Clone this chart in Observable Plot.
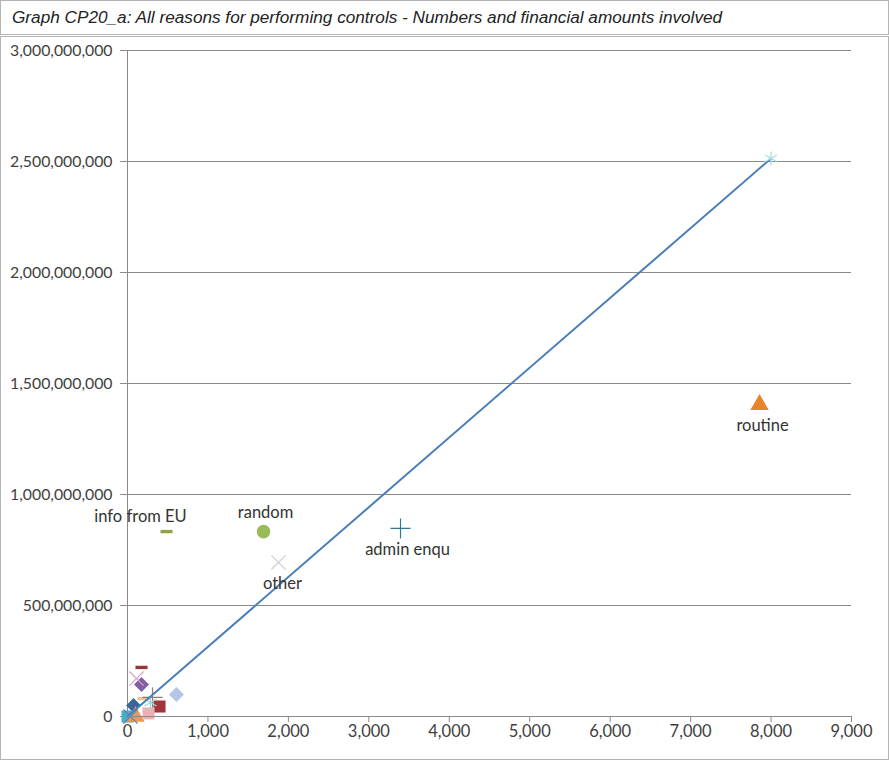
<!DOCTYPE html>
<html>
<head>
<meta charset="utf-8">
<script src="https://cdn.jsdelivr.net/npm/d3@7"></script>
<script src="https://cdn.jsdelivr.net/npm/@observablehq/plot@0.6"></script>
<style>
  html, body { margin: 0; padding: 0; background: #fff; }
  #title {
    box-sizing: border-box; width: 889px; height: 35px;
    border: 1px solid #b4b4b4;
    font-family: "Liberation Sans", Arial, sans-serif; font-style: italic;
    font-size: 17.2px; color: #222; padding-left: 11px; line-height: 32px;
    white-space: nowrap;
  }
  #chart {
    box-sizing: border-box; width: 889px; height: 724px; margin-top: 1px;
    border: 1px solid #b4b4b4; overflow: hidden;
  }
  #chart svg { display: block; }
</style>
</head>
<body>
<div id="title">Graph CP20_a: All reasons for performing controls - Numbers and financial amounts involved</div>
<div id="chart"></div>
<script>
// ---- data ----
const names   = ["routine", "admin enqu", "random", "other", "info from EU",
                 "", "", "", "", "", "", "", "", "", "", "", "", ""];
const counts  = [7857, 3394, 1691, 1877, 485,
                 174, 112, 174, 609, 311, 199, 398, 261, 75, 286, 0, 37, 100];
const amounts = [1405000000, 847000000, 833000000, 694000000, 833000000,
                 221000000, 171000000, 144000000, 99000000, 86000000, 81000000,
                 45000000, 14000000, 50000000, 63000000, 0, 0, 0];
// styles (kept apart from the values)
const colors  = ["#E8832A", "#2F7A8F", "#9BBB59", "#CFCDE0", "#8FA443",
                 "#953735", "#D9A0C6", "#7F60A2", "#B4C6E7", "#8C7B70", "#F5C08F",
                 "#A3353A", "#E6B4B4", "#3A659A", "#9FD6E2", "#4BACC6", "#4F81BD", "#F79646"];
const symbols = ["triangle", "plus", "circle", "times", "dash",
                 "dash", "times", "rhomb", "rhomb", "plus", "dash",
                 "square", "square", "rhomb", "asterisk", "square", "times", "triangle"];

const lineCounts  = [0, 8000];
const lineAmounts = [0, 2514000000];

const xTicks = [0, 1000, 2000, 3000, 4000, 5000, 6000, 7000, 8000, 9000];
const yTicks = [0, 500000000, 1000000000, 1500000000, 2000000000, 2500000000, 3000000000];

// custom markers (Excel "-" marker and square-rotated diamond)
const dashSymbol = {
  draw(ctx, size) {
    const w = Math.sqrt(size) * 1.0, h = w * 0.28;
    ctx.moveTo(-w / 2, -h / 2); ctx.lineTo(w / 2, -h / 2);
    ctx.lineTo(w / 2, h / 2); ctx.lineTo(-w / 2, h / 2); ctx.closePath();
  }
};
const rhombSymbol = {
  draw(ctx, size) {
    const a = Math.sqrt(size) * 0.62;
    ctx.moveTo(0, -a); ctx.lineTo(a, 0); ctx.lineTo(0, a); ctx.lineTo(-a, 0); ctx.closePath();
  }
};
const custom = {dash: dashSymbol, rhomb: rhombSymbol};
const strokeSyms = new Set(["plus", "times", "asterisk"]);

const rows = names.map((n, i) => ({
  name: n, count: counts[i], amount: amounts[i],
  color: colors[i], sym: custom[symbols[i]] || symbols[i],
  stroked: strokeSyms.has(symbols[i])
}));
const line = lineCounts.map((c, i) => ({count: c, amount: lineAmounts[i]}));

const font = "Lato, 'Open Sans', sans-serif";
const fmt = d3.format(",");
const fs = 16.5;

const filled = rows.filter(d => !d.stroked);
const stroked = rows.filter(d => d.stroked);
const lbl = n => rows.filter(d => d.name === n);

const chart = Plot.plot({
  width: 887, height: 722,
  marginLeft: 126, marginRight: 37, marginTop: 13, marginBottom: 43,
  style: {fontFamily: font, fontSize: fs + "px", color: "#404040", background: "#fff"},
  x: {domain: [0, 9000], ticks: xTicks, label: null},
  y: {domain: [0, 3000000000], ticks: yTicks, label: null},
  marks: [
    Plot.gridY(yTicks, {stroke: "#8a8a8a", strokeOpacity: 1, strokeWidth: 1}),
    Plot.ruleX([0], {stroke: "#8a8a8a"}),
    Plot.axisY(yTicks, {tickSize: 7, tickPadding: 8, tickFormat: fmt, stroke: "#8a8a8a", fill: "#404040", fontSize: 15.8, label: null}),
    Plot.axisX(xTicks, {tickSize: 6, tickPadding: 3, tickFormat: fmt, stroke: "#8a8a8a", fill: "#404040", fontSize: fs, label: null}),
    Plot.dot(filled, {x: "count", y: "amount", fill: "color", symbol: "sym", r: 6.8, stroke: "none"}),
    Plot.dot(stroked, {x: "count", y: "amount", stroke: "color", symbol: "sym", r: 6.5, strokeWidth: 1.2, fill: "none"}),
    Plot.line(line, {x: "count", y: "amount", stroke: "#4A7EBB", strokeWidth: 2}),
    Plot.dot(line.slice(1), {x: "count", y: "amount", symbol: "asterisk", stroke: "#A9DCE6", r: 6.5, strokeWidth: 1.2}),
    Plot.text(lbl("routine"), {x: "count", y: "amount", text: "name", dy: 21, dx: 3, fill: "#333", fontSize: fs}),
    Plot.text(lbl("admin enqu"), {x: "count", y: "amount", text: "name", dy: 21, dx: 7, fill: "#333", fontSize: fs}),
    Plot.text(lbl("random"), {x: "count", y: "amount", text: "name", dy: -19, dx: 2, fill: "#333", fontSize: fs}),
    Plot.text(lbl("other"), {x: "count", y: "amount", text: "name", dy: 21, dx: 4, fill: "#333", fontSize: fs}),
    Plot.text(lbl("info from EU"), {x: "count", y: "amount", text: "name", dy: -15, dx: -26, fill: "#333", fontSize: fs}),
    Plot.ruleY([0], {stroke: "#8a8a8a"})
  ]
});
document.getElementById("chart").appendChild(chart);
</script>
</body>
</html>
